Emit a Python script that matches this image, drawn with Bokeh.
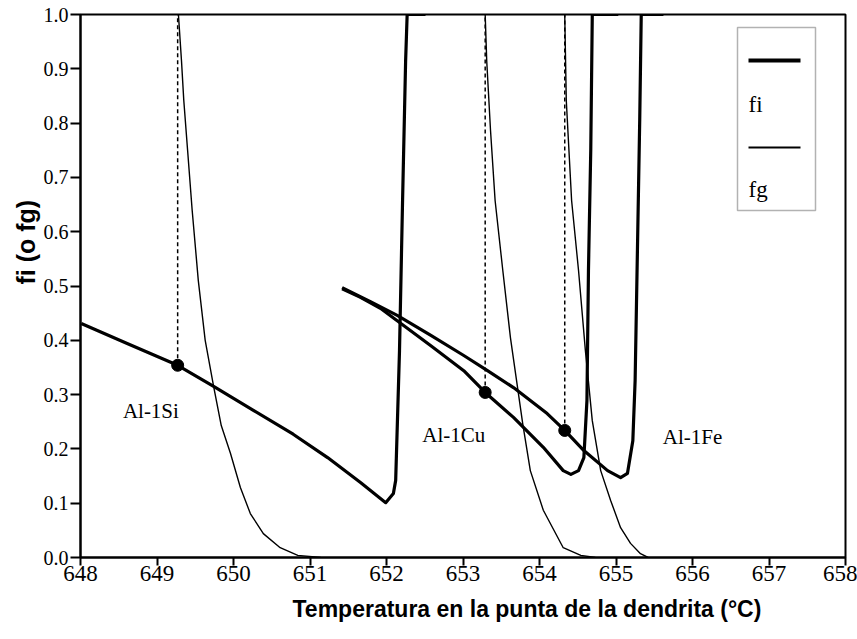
from bokeh.plotting import figure
from bokeh.models import Range1d, BoxAnnotation, Label, FixedTicker, Title
from bokeh.core.properties import value
from bokeh.embed import file_html
from bokeh.resources import INLINE

# ---- data ----
si_fi_x = [648.01, 648.61, 649.27, 649.74, 650.26, 650.78, 651.23, 651.66, 651.99, 652.09, 652.12, 652.17, 652.21, 652.25, 652.27, 652.51]
si_fi_y = [0.431, 0.394, 0.354, 0.315, 0.271, 0.227, 0.184, 0.138, 0.101, 0.118, 0.142, 0.381, 0.657, 0.915, 1.0, 1.0]
si_fg_x = [649.28, 649.32, 649.35, 649.40, 649.46, 649.54, 649.63, 649.74, 649.84, 649.96, 650.09, 650.22, 650.39, 650.61, 650.84, 651.14]
si_fg_y = [1.0, 0.915, 0.842, 0.750, 0.639, 0.510, 0.400, 0.315, 0.243, 0.192, 0.129, 0.081, 0.044, 0.018, 0.004, 0.0]

cu_fi_x = [651.42, 651.66, 651.92, 652.14, 652.58, 653.01, 653.29, 653.66, 654.05, 654.31, 654.41, 654.51, 654.58, 654.62, 654.64, 654.67, 654.69, 655.03]
cu_fi_y = [0.495, 0.479, 0.459, 0.436, 0.390, 0.344, 0.304, 0.258, 0.203, 0.160, 0.153, 0.160, 0.184, 0.289, 0.529, 0.750, 1.0, 1.0]
cu_fg_x = [653.29, 653.31, 653.36, 653.42, 653.52, 653.62, 653.78, 653.88, 654.05, 654.31, 654.54, 654.73]
cu_fg_y = [1.0, 0.915, 0.786, 0.657, 0.529, 0.405, 0.247, 0.160, 0.087, 0.018, 0.004, 0.0]

fe_fi_x = [651.42, 651.79, 652.14, 652.58, 653.01, 653.32, 653.66, 654.10, 654.33, 654.58, 654.89, 655.06, 655.15, 655.22, 655.25, 655.28, 655.31, 655.33, 655.62]
fe_fi_y = [0.497, 0.471, 0.446, 0.409, 0.372, 0.344, 0.313, 0.265, 0.234, 0.197, 0.160, 0.147, 0.155, 0.215, 0.326, 0.565, 0.805, 1.0, 1.0]
fe_fg_x = [654.33, 654.35, 654.42, 654.51, 654.60, 654.69, 654.80, 654.93, 655.06, 655.19, 655.32, 655.42]
fe_fg_y = [1.0, 0.842, 0.657, 0.529, 0.381, 0.252, 0.160, 0.105, 0.055, 0.026, 0.007, 0.0]

dot_x = [649.27, 653.29, 654.33]
dot_y = [0.354, 0.304, 0.234]

alloy_names = ["Al-1Si", "Al-1Cu", "Al-1Fe"]
alloy_label_x = [648.92, 652.88, 656.0]
alloy_label_y = [0.269, 0.225, 0.221]

x_ticks = [648, 649, 650, 651, 652, 653, 654, 655, 656, 657, 658]
y_ticks = [0.0, 0.1, 0.2, 0.3, 0.4, 0.5, 0.6, 0.7, 0.8, 0.9, 1.0]
x_title = "Temperatura en la punta  de la dendrita (°C)"
y_title = "fi  (o fg)"
legend_names = ["fi", "fg"]

# ---- figure ----
p = figure(width=857, height=639, output_backend="svg", toolbar_location=None,
           x_range=Range1d(648, 658), y_range=Range1d(0, 1.0))
p.min_border_left = 80
p.min_border_right = 12
p.min_border_top = 14
p.min_border_bottom = 82
p.grid.visible = False
p.outline_line_color = "black"
p.outline_line_width = 2
p.background_fill_color = "white"
p.border_fill_color = "white"

serif = "Liberation Serif"
sans = "Liberation Sans"

p.xaxis.ticker = FixedTicker(ticks=x_ticks)
p.yaxis.ticker = FixedTicker(ticks=y_ticks)
p.xaxis.major_label_overrides = {t: str(t) for t in x_ticks}
p.yaxis.major_label_overrides = {t: f"{t:.1f}" for t in y_ticks}
for ax in (p.xaxis, p.yaxis):
    ax.axis_line_width = 2
    ax.axis_line_color = "black"
    ax.major_tick_line_width = 2
    ax.major_tick_line_color = "black"
    ax.major_tick_in = 0
    ax.minor_tick_line_color = None
    ax.major_label_text_font = serif
    ax.major_label_text_color = "black"
p.xaxis.major_tick_out = 8
p.yaxis.major_tick_out = 10
p.xaxis.major_label_text_font_size = "23px"
p.yaxis.major_label_text_font_size = "20px"
p.xaxis.major_label_standoff = 0
p.yaxis.major_label_standoff = 2

# axis titles as side titles (the reference titles are off-centre)
p.add_layout(Title(text=x_title, align="left", offset=212, standoff=20,
                   text_font=sans, text_font_style="bold", text_font_size="23px",
                   text_color="black"), "below")
p.add_layout(Title(text=y_title, align="left", offset=273, standoff=2,
                   text_font=sans, text_font_style="bold", text_font_size="25px",
                   text_color="black"), "left")

# dashed verticals from the dots up to fi = 1
p.segment(x0=dot_x, y0=dot_y, x1=dot_x, y1=[1.0] * len(dot_x),
          line_color="black", line_width=1.5, line_dash="4 3")

# fg curves (thin)
for xs, ys in ((si_fg_x, si_fg_y), (cu_fg_x, cu_fg_y), (fe_fg_x, fe_fg_y)):
    p.line(xs, ys, line_color="black", line_width=1.4, line_join="round")

# fi curves (thick)
for xs, ys in ((si_fi_x, si_fi_y), (cu_fi_x, cu_fi_y), (fe_fi_x, fe_fi_y)):
    p.line(xs, ys, line_color="black", line_width=3.2, line_join="round")

p.scatter(dot_x, dot_y, size=12, color="black")

p.text(x=alloy_label_x, y=alloy_label_y, text=alloy_names,
       text_font=value(serif), text_font_size="21px", text_color="black",
       text_align="center", text_baseline="middle")

# ---- legend drawn as annotations (screen units, relative to the frame) ----
def sbox(l, r, b, t, **kw):
    return BoxAnnotation(left=l, right=r, bottom=b, top=t,
                         left_units="screen", right_units="screen",
                         bottom_units="screen", top_units="screen", **kw)

p.add_layout(sbox(657, 735, 347, 530, fill_alpha=0, line_color="black", line_width=1.5))
p.add_layout(sbox(668, 720, 495, 499, fill_color="black", fill_alpha=1, line_alpha=0))
p.add_layout(sbox(668, 720, 409, 411, fill_color="black", fill_alpha=1, line_alpha=0))
p.add_layout(Label(x=668, y=453, x_units="screen", y_units="screen",
                   text=legend_names[0], text_font=serif, text_font_size="23px",
                   text_color="black", text_baseline="alphabetic"))
p.add_layout(Label(x=668, y=368, x_units="screen", y_units="screen",
                   text=legend_names[1], text_font=serif, text_font_size="23px",
                   text_color="black", text_baseline="alphabetic"))

open("out.html", "w").write(file_html(p, INLINE))
